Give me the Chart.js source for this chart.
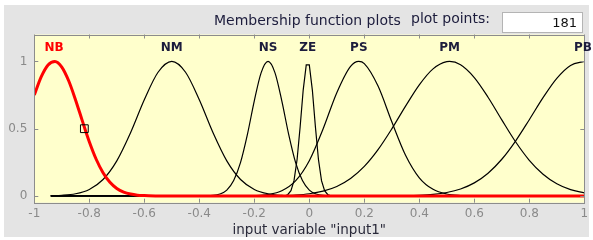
<!DOCTYPE html>
<html>
<head>
<meta charset="utf-8">
<script src="https://cdn.jsdelivr.net/npm/chart.js@4.4.0/dist/chart.umd.min.js"></script>
<style>
  html, body { margin: 0; padding: 0; background: #fff; }
  #wrap { position: relative; width: 593px; height: 240px; overflow: hidden; }
  #panel { position: absolute; left: 4px; top: 5px; width: 585px; height: 232px; background: #e4e4e4; }
  #mf-chart { position: absolute; left: 0; top: 0; }
  .hdr { position: absolute; font-family: "DejaVu Sans"; font-size: 14px; line-height: 16px; color: #1c1c3c; white-space: nowrap; }
  #pts { position: absolute; left: 502px; top: 12px; width: 81px; height: 21px; box-sizing: border-box;
         background: #fff; border: 1px solid #b4b4b4; font: 13px "DejaVu Sans"; color: #111;
         text-align: right; padding-right: 5px; line-height: 19px; }
</style>
</head>
<body>
<div id="wrap">
  <div id="panel"></div>
  <canvas id="mf-chart" width="593" height="240"></canvas>
  <div class="hdr" style="left:214px; top:12px;">Membership function plots</div>
  <div class="hdr" style="left:411px; top:10px;">plot points:</div>
  <div id="pts">181</div>
</div>
<script>
// membership functions of input1, labels sit over each peak
var mfNames   = ['NB', 'NM', 'NS', 'ZE', 'PS', 'PM', 'PB'];
var mfCenters = [-0.928, -0.5, -0.15, -0.0056, 0.18, 0.51, 0.995];

var xTicks = [-1, -0.8, -0.6, -0.4, -0.2, 0, 0.2, 0.4, 0.6, 0.8, 1];
var yTicks = [0, 0.5, 1];

// curve points
var nbX = [-1, -0.975, -0.95, -0.925, -0.9, -0.875, -0.85, -0.825, -0.8, -0.775, -0.75, -0.725, -0.7, -0.675, -0.65, -0.625, -0.6, -0.55, 1];
var nbY = [0.750, 0.885, 0.974, 1.0, 0.958, 0.856, 0.714, 0.556, 0.403, 0.273, 0.173, 0.102, 0.056, 0.029, 0.014, 0.006, 0.003, 0, 0];

var nmX = [-0.94, -0.9, -0.85, -0.8, -0.75, -0.7, -0.65, -0.6, -0.55, -0.5, -0.45, -0.4, -0.35, -0.3, -0.25, -0.2, -0.15, -0.1, -0.05, 0, 0.1, 1];
var nmY = [0.0015, 0.0046, 0.0163, 0.0487, 0.1225, 0.2609, 0.4696, 0.7147, 0.9194, 1, 0.9194, 0.7147, 0.4696, 0.2609, 0.1225, 0.0487, 0.0163, 0.0046, 0.0011, 0.0002, 0, 0];

var nsX = [-0.94, -0.4, -0.35, -0.325, -0.3, -0.275, -0.25, -0.225, -0.2, -0.175, -0.15, -0.125, -0.1, -0.075, -0.05, -0.025, 0, 0.025, 0.05, 0.1, 1];
var nsY = [0, 0.0002, 0.0039, 0.0142, 0.0439, 0.1142, 0.2494, 0.4578, 0.7066, 0.9169, 1, 0.9169, 0.7066, 0.4578, 0.2494, 0.1142, 0.0439, 0.0142, 0.0039, 0.0002, 0];

var zeX = [-0.94, -0.0889, -0.0778, -0.0667, -0.0556, -0.0444, -0.0333, -0.0222, -0.0111, 0, 0.0111, 0.0222, 0.0333, 0.0444, 0.0556, 0.0667, 0.0778, 0.0889, 1];
var zeY = [0, 0, 0.011, 0.039, 0.114, 0.271, 0.514, 0.787, 0.974, 0.974, 0.787, 0.514, 0.271, 0.114, 0.039, 0.011, 0.002, 0, 0];

var psX = [-0.94, -0.25, -0.2, -0.15, -0.1, -0.05, 0, 0.05, 0.1, 0.15, 0.18, 0.2, 0.25, 0.3, 0.35, 0.4, 0.45, 0.5, 0.55, 0.6, 0.65, 1];
var psY = [0, 0.0005, 0.0026, 0.0111, 0.0392, 0.1124, 0.2622, 0.4974, 0.7676, 0.9635, 1, 0.9836, 0.8167, 0.5515, 0.3030, 0.1353, 0.0492, 0.0145, 0.0035, 0.0007, 0.0001, 0];

var pmX = [-0.94, -0.2, -0.15, -0.1, -0.05, 0, 0.05, 0.1, 0.15, 0.2, 0.25, 0.3, 0.35, 0.4, 0.45, 0.5, 0.51, 0.55, 0.6, 0.65, 0.7, 0.75, 0.8, 0.85, 0.9, 0.95, 1];
var pmY = [0, 0.0004, 0.001, 0.0028, 0.0071, 0.0165, 0.0355, 0.0704, 0.1294, 0.2194, 0.3441, 0.4986, 0.6676, 0.8262, 0.9448, 0.9984, 1, 0.9751, 0.88, 0.734, 0.5657, 0.4029, 0.2652, 0.1614, 0.0907, 0.0471, 0.0226];

var pbX = [-0.94, 0.2, 0.25, 0.3, 0.35, 0.4, 0.45, 0.5, 0.55, 0.6, 0.65, 0.7, 0.75, 0.8, 0.85, 0.9, 0.95, 1];
var pbY = [0, 0.0001, 0.0003, 0.0007, 0.002, 0.0051, 0.0119, 0.0258, 0.052, 0.0973, 0.1691, 0.2728, 0.4082, 0.5668, 0.7305, 0.874, 0.9702, 0.9996];

// the little square handle on the selected (red) curve
var markX = [-0.818];
var markY = [0.5];

function pts(xs, ys) {
    return xs.map(function (x, i) { return {x: x, y: ys[i]}; });
}

function blackCurve(xs, ys, smooth) {
    return {
        data: pts(xs, ys),
        borderColor: '#000000',
        borderWidth: 1.2,
        pointRadius: 0,
        fill: false,
        cubicInterpolationMode: smooth ? 'monotone' : 'default',
        tension: 0
    };
}

var fontFam = '"DejaVu Sans"';

// yellow axes box, inward ticks, outline and the MF names
var fisFrame = {
    id: 'fisFrame',
    beforeDraw: function (chart) {
        var a = chart.chartArea, ctx = chart.ctx;
        ctx.save();
        ctx.fillStyle = '#ffffcc';
        ctx.fillRect(a.left, a.top, a.right - a.left, a.bottom - a.top);
        ctx.restore();
    },
    afterDatasetsDraw: function (chart) {
        var a = chart.chartArea, ctx = chart.ctx;
        var sx = chart.scales.x, sy = chart.scales.y;
        ctx.save();
        ctx.strokeStyle = '#8c8c8c';
        ctx.lineWidth = 1;
        ctx.beginPath();
        xTicks.forEach(function (v) {
            var px = Math.round(sx.getPixelForValue(v)) + 0.5;
            ctx.moveTo(px, a.bottom); ctx.lineTo(px, a.bottom - 4);
            ctx.moveTo(px, a.top); ctx.lineTo(px, a.top + 4);
        });
        yTicks.forEach(function (v) {
            var py = Math.round(sy.getPixelForValue(v)) + 0.5;
            ctx.moveTo(a.left, py); ctx.lineTo(a.left + 4, py);
            ctx.moveTo(a.right, py); ctx.lineTo(a.right - 4, py);
        });
        ctx.stroke();
        ctx.strokeRect(Math.round(a.left) + 0.5, Math.round(a.top) + 0.5,
                       Math.round(a.right - a.left), Math.round(a.bottom - a.top));

        ctx.font = 'bold 12px ' + fontFam;
        ctx.textAlign = 'center';
        ctx.textBaseline = 'middle';
        mfNames.forEach(function (n, i) {
            ctx.fillStyle = i === 0 ? '#ff0000' : '#1c1c3c';
            ctx.fillText(n, sx.getPixelForValue(mfCenters[i]), a.top + 13.5);
        });
        ctx.restore();
    }
};

var mfChart = new Chart(document.getElementById('mf-chart'), {
    type: 'line',
    data: {
        datasets: [
            {
                data: pts(markX, markY),
                showLine: false,
                pointStyle: 'rect',
                pointRadius: 5.5,
                pointBorderWidth: 1,
                pointBorderColor: '#000000',
                pointBackgroundColor: 'rgba(0,0,0,0)'
            },
            {
                data: pts(nbX, nbY),
                borderColor: '#ff0000',
                borderWidth: 3,
                pointRadius: 0,
                fill: false,
                cubicInterpolationMode: 'monotone'
            },
            blackCurve(nmX, nmY, true),
            blackCurve(nsX, nsY, true),
            blackCurve(zeX, zeY, false),
            blackCurve(psX, psY, true),
            blackCurve(pmX, pmY, true),
            blackCurve(pbX, pbY, true)
        ]
    },
    options: {
        responsive: false,
        animation: false,
        events: [],
        layout: { padding: { left: 0, right: 8.7, top: 34.5, bottom: 0 } },
        plugins: {
            legend: { display: false },
            tooltip: { enabled: false },
            title: { display: false }
        },
        scales: {
            x: {
                type: 'linear',
                min: -1,
                max: 1,
                afterBuildTicks: function (s) { s.ticks = xTicks.map(function (v) { return {value: v}; }); },
                afterFit: function (s) { s.height = 37.3; },
                grid: { display: false, drawTicks: false },
                border: { display: false },
                ticks: {
                    autoSkip: false,
                    maxRotation: 0,
                    padding: 4,
                    color: '#8a8a8a',
                    font: { family: fontFam, size: 12 },
                    callback: function (v) { return String(Math.round(v * 10) / 10); }
                },
                title: {
                    display: true,
                    text: 'input variable "input1"',
                    color: '#2a2a3a',
                    font: { family: fontFam, size: 13.5 },
                    padding: { top: 0, bottom: 1 }
                }
            },
            y: {
                min: -0.05,
                max: 1.2,
                afterBuildTicks: function (s) { s.ticks = yTicks.map(function (v) { return {value: v}; }); },
                afterFit: function (s) { s.width = 34.3; },
                grid: { display: false, drawTicks: false },
                border: { display: false },
                ticks: {
                    padding: 7,
                    color: '#8a8a8a',
                    font: { family: fontFam, size: 12 },
                    callback: function (v) { return String(v); }
                }
            }
        }
    },
    plugins: [fisFrame]
});
</script>
</body>
</html>
